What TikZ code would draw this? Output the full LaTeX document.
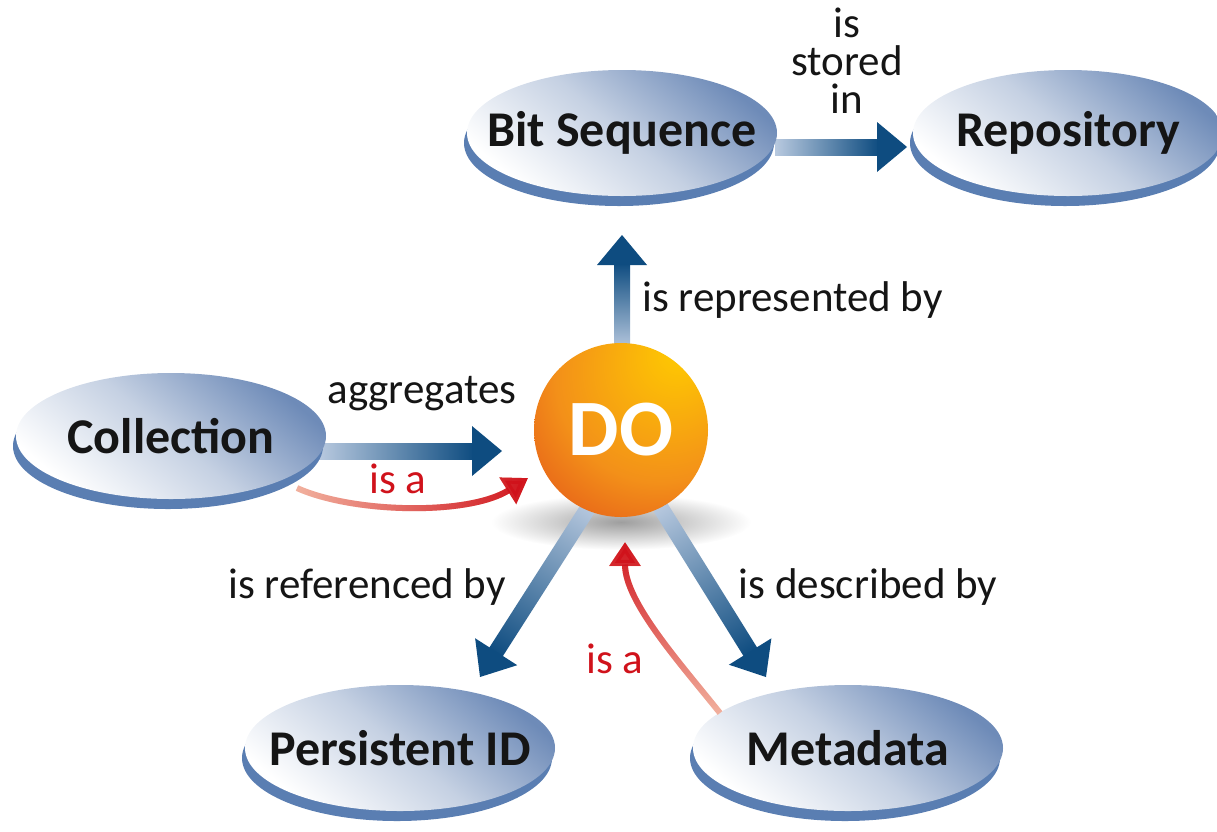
\documentclass[tikz,border=0pt]{standalone}
\usepackage{fontspec}
\setmainfont{Carlito}
\usetikzlibrary{arrows.meta,calc,positioning}
\usetikzlibrary{shapes.geometric,shadows,fadings}

\definecolor{ellblue}{HTML}{6E8BB8}
\definecolor{ellrim}{HTML}{5A7EB2}
\definecolor{arrdark}{HTML}{0E4C80}
\definecolor{arrlight}{HTML}{B8C9DF}
\definecolor{isared}{HTML}{D0121B}
\definecolor{isalight}{HTML}{F2B3A0}
\definecolor{doyellow}{HTML}{FFCC00}
\definecolor{doorange}{HTML}{F39019}
\definecolor{dored}{HTML}{DF451A}
\definecolor{txt}{HTML}{151515}

\pgfdeclareradialshading{doball}{\pgfpoint{18bp}{24bp}}{color(0bp)=(doyellow); color(12bp)=(doyellow!60!doorange); color(30bp)=(doorange); color(52bp)=(dored); color(80bp)=(dored)}
\tikzfading[name=fadeleft, left color=transparent!100, right color=transparent!0]
\tikzfading[name=fadeup, bottom color=transparent!100, top color=transparent!0]
\pgfdeclarelayer{bg}
\pgfsetlayers{bg,main}

\tikzstyle{Aobj}=[ellipse,minimum width=310pt,minimum height=126pt,inner xsep=-30pt,inner ysep=0pt,
                top color=ellblue,bottom color=white,middle color=ellblue!40,shading angle=-40,
                drop shadow={shadow xshift=-3pt,shadow yshift=-10pt,fill=ellrim,opacity=1},
                font=\fontsize{50}{52}\selectfont\bfseries,text=txt]
\tikzstyle{Aball}=[circle,minimum size=174pt,inner sep=0pt,shade,shading=doball,
                text=white,font=\fontsize{80}{80}\selectfont\bfseries]
\tikzstyle{lbl}=[font=\fontsize{43}{38}\selectfont,text=txt,inner sep=0pt]
\tikzstyle{isatext}=[text=isared]
\tikzstyle{isa}=[line width=6pt,-{Triangle[length=24pt,width=30pt]}]
% shaded blue arrow from #1 to #2
\newcommand{\blink}[2]{\path let \p1=($(#2)-(#1)$) in \pgfextra{\pgfmathsetmacro\blang{atan2(\y1,\x1)}\pgfmathsetmacro\bllen{veclen(\x1,\y1)}\global\let\blang\blang\global\let\bllen\bllen};
  \shade[transform canvas={shift={(#1)},rotate=\blang},left color=arrlight,right color=arrdark] (0pt,-8pt) rectangle ({\bllen pt-28pt},8pt);
  \fill[arrdark,transform canvas={shift={(#1)},rotate=\blang}] ({\bllen pt-30pt},-25pt) -- ({\bllen pt},0pt) -- ({\bllen pt-30pt},25pt) -- cycle;}

\begin{document}
\begin{tikzpicture}[x=1pt,y=-1pt,on grid]
  \useasboundingbox (0,0) rectangle (1217,831);
  \node[Aball] (do) at (621,430) {DO};
  \node[Aobj,above=297pt of do,xshift=1pt] (bit) {Bit Sequence};
  \node[Aobj,right=446pt of bit] (repo) {Repository};
  \node[Aobj,left=450pt of do,yshift=-6pt] (coll) {Collection};
  \node[Aobj,below left=318pt and 221pt of do] (pid) {Persistent ID};
  \node[Aobj,below right=318pt and 227pt of do] (meta) {Metadata};

  \coordinate (bitS) at ($(bit)+(153,14)$);
  \coordinate (repoW) at ($(repo)+(-161,14)$);
  \coordinate (doN) at ($(do)+(1,-80)$);
  \coordinate (bitB) at ($(do)+(1,-195)$);
  \coordinate (collE) at ($(coll)+(148,15)$);
  \coordinate (doW) at ($(do)+(-119,21)$);
  \coordinate (doSW) at ($(do)+(-31,75)$);
  \coordinate (pidN) at ($(pid)+(80,-71)$);
  \coordinate (doSE) at ($(do)+(38,75)$);
  \coordinate (metaN) at ($(meta)+(-82,-71)$);
  \coordinate (isa1s) at ($(coll)+(126,52)$);
  \coordinate (isa1t) at ($(do)+(-93,48)$);
  \coordinate (isa2s) at ($(meta)+(-128,-35)$);
  \coordinate (isa2t) at ($(do)+(4,112)$);

  \begin{pgfonlayer}{bg}
    \shade[inner color=black!38,outer color=white] ($(do)+(0,92)$) ellipse [x radius=130pt,y radius=28pt];
    \blink{bitS}{repoW}
    \blink{doN}{bitB}
    \blink{collE}{doW}
    \blink{doSW}{pidN}
    \blink{doSE}{metaN}
  \end{pgfonlayer}

  \draw[isa,isalight] (isa1s) .. controls ($(isa1s)+(55,25)$) and ($(isa1t)+(-60,38)$) .. (isa1t);
  \draw[isa,isared,path fading=fadeleft] (isa1s) .. controls ($(isa1s)+(55,25)$) and ($(isa1t)+(-60,38)$) .. (isa1t);
  \draw[isa,isalight] (isa2s) .. controls ($(isa2s)+(-40,-50)$) and ($(isa2t)+(0,60)$) .. (isa2t);
  \draw[isa,isared,path fading=fadeup] (isa2s) .. controls ($(isa2s)+(-40,-50)$) and ($(isa2t)+(0,60)$) .. (isa2t);

  \node[lbl,align=center] (stored) at ($(bit)!0.5!(repo)+(2,-72)$) {is\\stored\\in};
  \node[lbl,anchor=west] (repr) at ($(do)+(21,-130)$) {is represented by};
  \node[lbl,anchor=base] (aggr) at ($(do)+(-199,-27)$) {aggregates};
  \node[lbl,isatext,anchor=base] (isa1) at ($(do)+(-223,63)$) {is a};
  \node[lbl,anchor=base] (refd) at ($(do)+(-254,168)$) {is referenced by};
  \node[lbl,anchor=base] (desc) at ($(do)+(247,168)$) {is described by};
  \node[lbl,isatext,anchor=base] (isa2) at ($(do)+(-6,243)$) {is a};
\end{tikzpicture}
\end{document}
